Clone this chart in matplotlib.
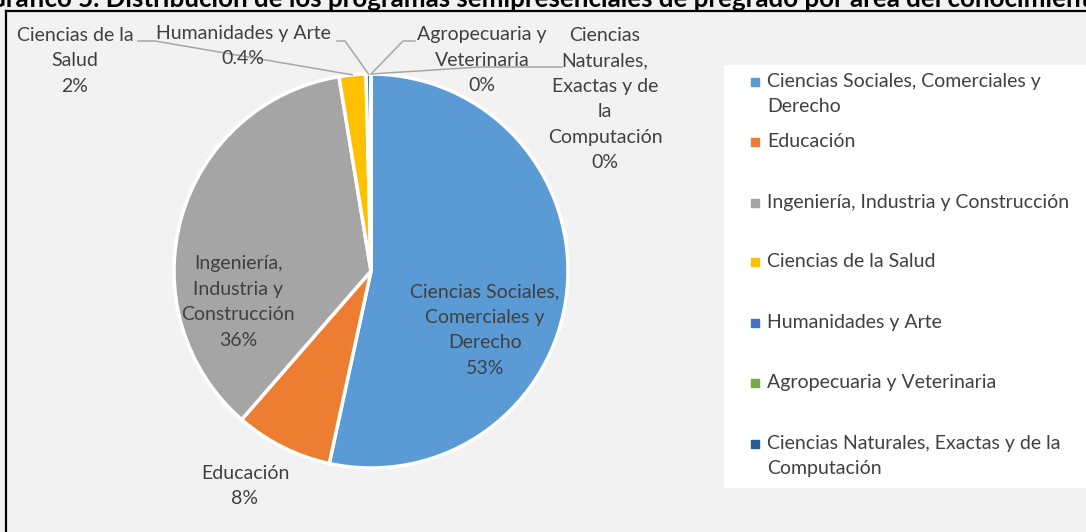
import matplotlib
matplotlib.use("Agg")
import matplotlib.pyplot as plt
import numpy as np
from matplotlib.lines import Line2D
from matplotlib.patches import Rectangle

plt.rcParams["font.family"] = ["Lato", "DejaVu Sans"]

# Data
categorias = [
    "Ciencias Sociales, Comerciales y Derecho",
    "Educación",
    "Ingeniería, Industria y Construcción",
    "Ciencias de la Salud",
    "Humanidades y Arte",
    "Agropecuaria y Veterinaria",
    "Ciencias Naturales, Exactas y de la Computación",
]
porcentajes = [53.4, 8.0, 36.0, 2.2, 0.4, 0.0, 0.0]
etiquetas_pct = ["53%", "8%", "36%", "2%", "0.4%", "0%", "0%"]
colores = ["#5B9BD5", "#ED7D31", "#A5A5A5", "#FFC000", "#4472C4", "#70AD47", "#255E91"]

titulo = ("Gráfico 5. Distribución de los programas semipresenciales "
          "de pregrado por área del conocimiento")

W, H = 1086, 532
texto_gris = "#404040"

fig = plt.figure(figsize=(W / 100, H / 100), dpi=100, facecolor="#F2F2F2")
# full-figure axes in pixel units (y measured from the bottom)
ax = fig.add_axes([0, 0, 1, 1])


def py(y):
    return H - y


cx, cy, r = 371, py(271), 197
wedges, _ = ax.pie(porcentajes, colors=colores, startangle=90, counterclock=False,
                   center=(cx, cy), radius=r, frame=True,
                   wedgeprops=dict(edgecolor="white", linewidth=2.5))
ax.set_xlim(0, W)
ax.set_ylim(0, H)
ax.axis("off")


def borde(i):
    w = wedges[i]
    a = np.deg2rad((w.theta1 + w.theta2) / 2)
    return cx + r * np.cos(a), cy + r * np.sin(a)


fs = 14
ls = 1.6
line_kw = dict(color="#A6A6A6", lw=1.1, zorder=1)
txt_kw = dict(ha="center", va="center", fontsize=fs, color=texto_gris, linespacing=ls)

# labels inside / below
ax.text(485, py(330), "Ciencias Sociales,\nComerciales y\nDerecho\n" + etiquetas_pct[0], **txt_kw)
ax.text(238, py(302), "Ingeniería,\nIndustria y\nConstrucción\n" + etiquetas_pct[2], **txt_kw)
ax.text(245, py(486), "Educación\n" + etiquetas_pct[1], **txt_kw)

# outside labels with leader lines
ax.text(75, py(61), "Ciencias de la\nSalud\n" + etiquetas_pct[3], **txt_kw)
x0, y0 = borde(3)
ax.plot([138, 155, x0], [py(41), py(41), y0], **line_kw)

ax.text(243, py(46), "Humanidades y Arte\n" + etiquetas_pct[4], **txt_kw)
x0, y0 = borde(4)
ax.plot([337, 345, x0], [py(41), py(41), y0], **line_kw)

ax.text(482, py(60), "Agropecuaria y\nVeterinaria\n" + etiquetas_pct[5], **txt_kw)
x0, y0 = borde(5)
ax.plot([x0, 403, 415], [y0, py(41), py(41)], **line_kw)

ax.text(605, py(99), "Ciencias\nNaturales,\nExactas y de\nla\nComputación\n" + etiquetas_pct[6], **txt_kw)
x0, y0 = borde(6)
ax.plot([x0, 480, 562], [y0, py(67), py(67)], **line_kw)

# legend box
ax.add_patch(Rectangle((724, py(488)), W - 724 + 5, 488 - 65,
                       facecolor="white", edgecolor="none", zorder=2))
filas = [82, 142, 203, 262, 323, 383, 444]
textos_ley = [
    "Ciencias Sociales, Comerciales y\nDerecho",
    "Educación",
    "Ingeniería, Industria y Construcción",
    "Ciencias de la Salud",
    "Humanidades y Arte",
    "Agropecuaria y Veterinaria",
    "Ciencias Naturales, Exactas y de la\nComputación",
]
for yy, t, c in zip(filas, textos_ley, colores):
    ax.plot(755, py(yy), marker="s", markersize=5.5, color=c, zorder=3)
    ax.text(767, py(yy) + 9, t, ha="left", va="top", fontsize=fs, color=texto_gris,
            linespacing=ls, zorder=3)

# chart border
fig.add_artist(Line2D([6 / W, 6 / W], [0, 1 - 11 / H], color="black", lw=1.6))
fig.add_artist(Line2D([6 / W, 1], [1 - 11 / H, 1 - 11 / H], color="black", lw=1.6))

# title (cut off by the image edges)
fig.text(546 / W, 1 - 7 / H, titulo, ha="center", va="baseline",
         fontsize=18.6, fontweight="bold", color="black")

fig.savefig("out.png", dpi=100, facecolor=fig.get_facecolor())
